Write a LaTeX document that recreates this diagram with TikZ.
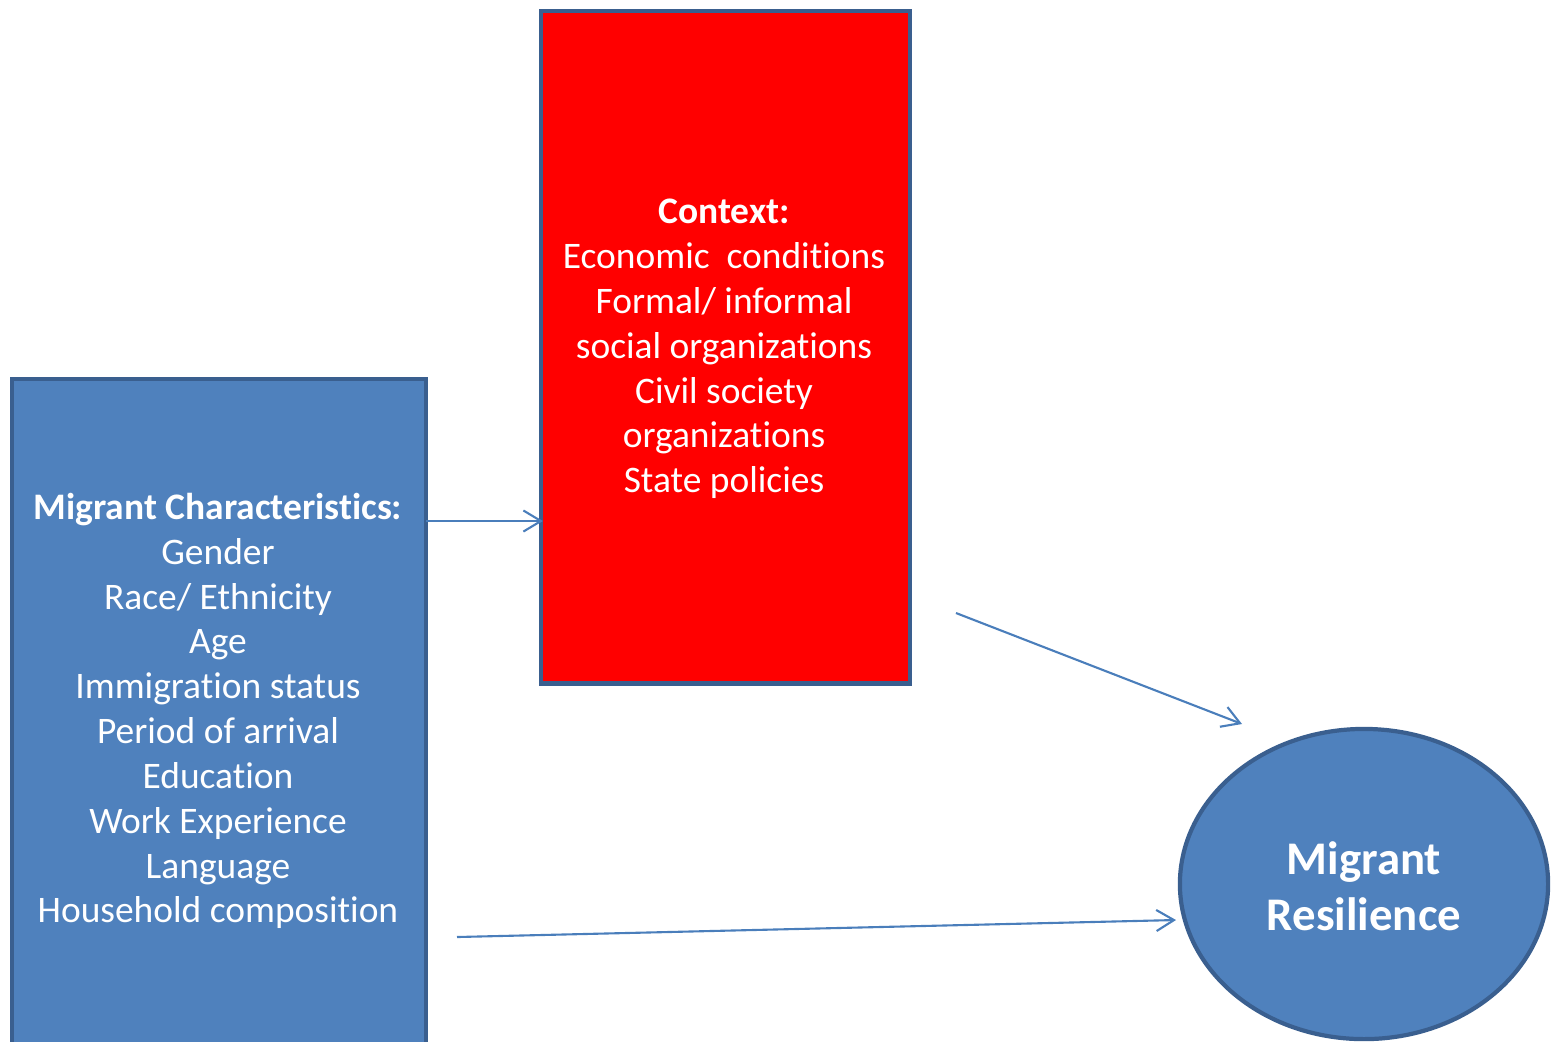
\documentclass[tikz,border=0pt]{standalone}
\usepackage{fontspec}
\setmainfont{Carlito}[Ligatures=NoCommon]
\usetikzlibrary{shapes.geometric,arrows.meta}
\definecolor{boxblue}{HTML}{4F81BD}
\definecolor{edgeblue}{HTML}{3A5F8F}
\definecolor{arrowblue}{HTML}{4A7EBB}
\begin{document}
\begin{tikzpicture}[x=0.01cm,y=-0.01cm,
  panel/.style={draw=edgeblue, line width=1.2pt, inner sep=0pt, anchor=north west},
  label/.style={text=white, align=center, font=\fontsize{10.65pt}{12.75pt}\selectfont, inner sep=0pt},
  link/.style={draw=arrowblue, line width=0.6pt, -{Straight Barb[length=5pt,width=6pt]}}]
\clip (0,0) rectangle (1552,1041);
\node[panel, fill=boxblue, minimum width=4.14cm, minimum height=7.0cm] (mig) at (10,377) {};
\node[panel, fill=red, minimum width=3.69cm, minimum height=6.72cm] (ctx) at (539,9) {};
\node[ellipse, draw=edgeblue, line width=1.2pt, fill=boxblue, minimum width=3.68cm, minimum height=3.10cm, inner sep=0pt] (res) at (1364,884) {};
\node[label] (migtext) at (218,711) {\textbf{Migrant Characteristics:}\\Gender\\Race/ Ethnicity\\Age\\Immigration status\\Period of arrival\\Education\\Work Experience\\Language\\Household composition};
\node[label] (ctxtext) at (724,349) {\textbf{Context:}\\Economic\ \ conditions\\Formal/ informal\\social organizations\\Civil society\\organizations\\State policies};
\node[label, font=\fontsize{13.3pt}{15.9pt}\selectfont\bfseries] (restext) at (1364,886) {Migrant\\Resilience};
\coordinate (a1s) at (426,521);
\coordinate (a1e) at (543,521);
\coordinate (a2s) at (956,613);
\coordinate (a2e) at (1242,724);
\coordinate (a3s) at (457,937);
\coordinate (a3e) at (1176,920);
\draw[link] (a1s) -- (a1e);
\draw[link] (a2s) -- (a2e);
\draw[link] (a3s) -- (a3e);
\end{tikzpicture}
\end{document}
